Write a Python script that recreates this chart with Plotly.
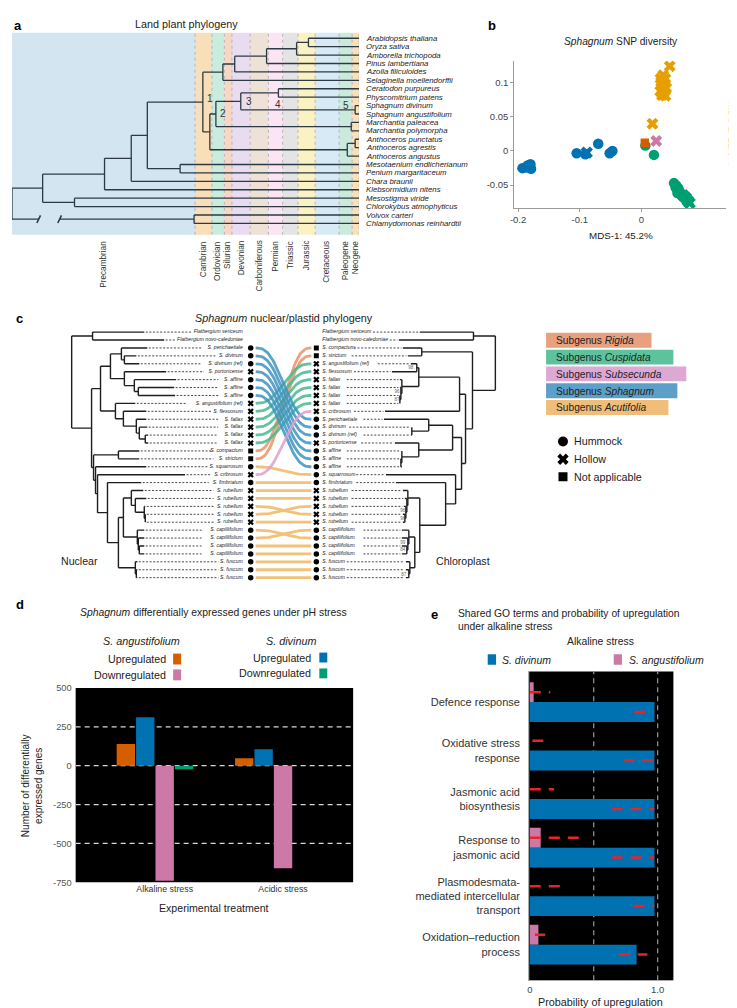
import numpy as np
import plotly.graph_objects as go

W, H = 737, 1008
FONT = "Liberation Sans, Arial, sans-serif"
INK = "#222222"

# ======================= DATA =======================
# ---- Panel a: land plant phylogeny ----
A_LEAVES = ["Arabidopsis thaliana", "Oryza sativa", "Amborella trichopoda", "Pinus lambertiana",
            "Azolla filiculoides", "Selaginella moellendorffii", "Ceratodon purpureus",
            "Physcomitrium patens", "Sphagnum divinum", "Sphagnum angustifolium",
            "Marchantia paleacea", "Marchantia polymorpha", "Anthoceros punctatus",
            "Anthoceros agrestis", "Anthoceros angustus", "Mesotaenium endlicherianum",
            "Penium margaritaceum", "Chara braunii", "Klebsormidium nitens", "Mesostigma viride",
            "Chlorokybus atmophyticus", "Volvox carteri", "Chlamydomonas reinhardtii"]
PERIODS = ["Precambrian", "Cambrian", "Ordovician", "Silurian", "Devonian", "Carboniferous",
           "Permian", "Triassic", "Jurassic", "Cretaceous", "Paleogene", "Neogene"]
PERIOD_START = [1144, 541, 485, 444, 419, 359, 299, 252, 201, 145, 66, 23]   # Ma
PERIOD_END = [541, 485, 444, 419, 359, 299, 252, 201, 145, 66, 23, 0]
PERIOD_COLORS = ["#d4e5f2", "#f8dfb9", "#c9ecdf", "#f8d6c4", "#eadcf0", "#eee1d5",
                 "#fbe4f3", "#e4e4e4", "#fbf2c4", "#d9eaf7", "#cbeadc", "#f8e0b9"]
A_BREAK_AGES = (1056, 987)


def N(x, ch, lab=None, brk=False):
    return ("N", x, ch, lab, brk)


def L(r, x=0):
    return ("L", r, x)


# node ages (Ma)
A_TREE = N(1144, [
    N(1043, [
        N(839, [
            N(751, [
                N(698, [
                    N(515, [
                        N(449, [N(410, [N(305, [N(206, [N(167, [L(0), L(1)]), L(2)]), L(3)]), L(4)]), L(5)]),
                        N(492, [
                            N(472, [N(390, [N(266, [L(6), L(7)], "4"), N(13, [L(8), L(9)], "5")], "3"),
                                    N(26, [L(10), L(11)])], "2"),
                            N(39, [N(13, [L(12), L(13)]), L(14)]),
                        ]),
                    ], "1"),
                    N(590, [L(15), L(16)]),
                ]),
                L(17),
            ]),
            L(18),
        ]),
        N(938, [L(19), L(20)]),
    ]),
    N(544, [L(21), L(22)], None, True),
])
A_LABEL_STYLE = {"1": ("left", 2, 3.5), "2": ("left", 2, 1), "3": ("left", 3, 0),
                 "4": ("center", 0, -12), "5": ("right", -4, 4)}

# ---- Panel b: SNP diversity (MDS) ----
B_BLUE_CIRCLE_X = [-0.193, -0.1847, -0.180, -0.179, -0.1875, -0.105, -0.091, -0.070, -0.0515, -0.047]
B_BLUE_CIRCLE_Y = [-0.0252, -0.0214, -0.0194, -0.0262, -0.0243, -0.0034, -0.005, 0.0105, -0.0035, 0.0]
B_BLUE_CROSS_X = [-0.0886]
B_BLUE_CROSS_Y = [-0.0025]
B_ORANGE_CROSS_X = [0.046, 0.0353, 0.039, 0.032, 0.038, 0.0343, 0.0404, 0.0306, 0.0367, 0.0334,
                    0.039, 0.0311, 0.0371, 0.018]
B_ORANGE_CROSS_Y = [0.1238, 0.1107, 0.1058, 0.101, 0.0985, 0.0937, 0.0922, 0.0874, 0.0864, 0.0816,
                    0.0806, 0.1058, 0.0903, 0.0398]
B_GREEN_CIRCLE_X = [0.0065, 0.0204, 0.0529, 0.0566, 0.0599, 0.0622, 0.0585, 0.0645, 0.0557]
B_GREEN_CIRCLE_Y = [0.0078, -0.0058, -0.0471, -0.0505, -0.0544, -0.0592, -0.0617, -0.0631, -0.0534]
B_GREEN_CROSS_X = [0.0677, 0.0724, 0.0784, 0.0752]
B_GREEN_CROSS_Y = [-0.065, -0.0689, -0.0762, -0.0728]
B_PINK_CROSS_X = [0.0241]
B_PINK_CROSS_Y = [0.0146]
B_RED_SQUARE_X = [0.0056]
B_RED_SQUARE_Y = [0.0121]
B_XTICKS = [-0.2, -0.1, 0]
B_XTICKTEXT = ["-0.2", "-0.1", "0"]
B_YTICKS = [-0.05, 0, 0.05, 0.1]
B_YTICKTEXT = ["-0.05", "0", "0.05", "0.1"]

# ---- Panel c: nuclear / plastid tanglegram ----
C_LEFT_NAMES = ["Flatbergium sericeum", "Flatbergium novo-caledoniae", "S. perichaetiale", "S. divinum",
                "S. divinum (ref)", "S. portoricense", "S. affine", "S. affine", "S. affine",
                "S. angustifolium (ref)", "S. flexuosum", "S. fallax", "S. fallax", "S. fallax", "S. fallax",
                "S. compactum", "S. strictum", "S. squarrosum", "S. cribrosum", "S. fimbriatum",
                "S. rubellum", "S. rubellum", "S. rubellum", "S. rubellum", "S. rubellum",
                "S. capillifolium", "S. capillifolium", "S. capillifolium", "S. capillifolium",
                "S. fuscum", "S. fuscum", "S. fuscum"]
C_LEFT_HABITAT = ["", "", "H", "H", "H", "W", "H", "H", "H", "W", "W", "W", "W", "W", "W",
                  "N", "N", "H", "W", "H", "W", "W", "W", "W", "W", "H", "H", "H", "H", "H", "H", "H"]
C_RIGHT_NAMES = ["Flatbergium sericeum", "Flatbergium novo-caledoniae", "S. compactum", "S. strictum",
                 "S. angustifolium (ref)", "S. flexuosum", "S. fallax", "S. fallax", "S. fallax", "S. fallax",
                 "S. cribrosum", "S. perichaetiale", "S. divinum", "S. divinum (ref)", "S. portoricense",
                 "S. affine", "S. affine", "S. affine", "S. squarrosum", "S. fimbriatum",
                 "S. rubellum", "S. rubellum", "S. rubellum", "S. rubellum", "S. rubellum",
                 "S. capillifolium", "S. capillifolium", "S. capillifolium", "S. capillifolium",
                 "S. fuscum", "S. fuscum", "S. fuscum"]
C_RIGHT_HABITAT = ["", "", "N", "N", "W", "W", "W", "W", "W", "W", "W", "H", "H", "H", "W",
                   "H", "H", "H", "H", "H", "W", "W", "W", "W", "W", "H", "H", "H", "H", "H", "H", "H"]
C_LINK_LEFT = list(range(2, 32))
C_LINK_RIGHT = [11, 12, 13, 14, 15, 16, 17, 4, 5, 6, 7, 8, 9, 2, 3, 18, 10, 19,
                20, 21, 23, 22, 24, 26, 25, 27, 28, 29, 30, 31]
C_LINK_GROUP = ["Sphagnum"] * 7 + ["Cuspidata"] * 6 + ["Rigida"] * 2 + ["Acutifolia", "Subsecunda"] + \
               ["Acutifolia"] * 13
C_SUBGENERA = ["Rigida", "Cuspidata", "Subsecunda", "Sphagnum", "Acutifolia"]
C_SUB_FILL = ["#E9A07E", "#5EC39C", "#DDA8D4", "#5C9FC8", "#F0BE78"]
C_SUB_LINE = ["#E8946A", "#45BC8F", "#DCA0D2", "#3E93C3", "#F0B862"]
C_SUB_BOX_W = [106, 128, 141, 132, 123]
C_HABITAT_KEYS = ["H", "W", "N"]
C_HABITAT_LABELS = ["Hummock", "Hollow", "Not applicable"]
C_HABITAT_SYMBOL = {"H": "circle", "W": "x", "N": "square"}

# branch positions (left tree grows rightwards, right tree leftwards)
C_NUC_TREE = N(60, [
    N(81, [L(0, 133), L(1, 153)]),
    N(80, [
        N(89, [
            N(99, [
                N(110, [L(2, 136), N(113, [L(3, 125), L(4, 128)])]),
                N(113, [L(5, 155), N(123, [L(6, 165), N(127, [L(7, 163), L(8, 164)])])]),
            ]),
            N(104, [L(9, 124), N(112, [L(10, 135), N(125, [L(11, 135), N(128, [L(12, 136),
                                                                          N(134, [L(13, 137), L(14, 137)])])])])]),
        ]),
        N(82, [
            N(107, [L(15, 128), L(16, 128)]),
            N(84, [
                L(17, 135),
                N(86, [
                    L(18, 174),
                    N(96, [
                        L(19, 130),
                        N(107, [
                            N(112, [
                                N(120, [L(20, 132), N(124, [L(21, 135), N(133, [L(22, 134),
                                                                              N(134, [L(23, 134), L(24, 134)])])])]),
                                N(126, [L(25, 133), N(127, [L(26, 133), N(128, [L(27, 133), L(28, 133)])])]),
                            ]),
                            N(124, [L(29, 126), N(125, [L(30, 126), L(31, 126)])]),
                        ]),
                    ]),
                ]),
            ]),
        ]),
    ]),
])
C_CHL_TREE = N(486, [
    N(464, [L(0, 410), L(1, 389)]),
    N(463, [
        N(412, [L(2, 393), L(3, 398)]),
        N(456, [
            N(450, [
                N(409, [N(407, [L(4, 401), L(5, 382)]),
                        N(392, [L(6, 390), N(391, [L(7, 390), N(390, [L(8, 390), L(9, 390)])])])]),
                L(10, 375),
            ]),
            N(452, [
                N(443, [
                    N(419, [L(11, 374), N(402, [L(12, 402), L(13, 401)])]),
                    N(409, [L(14, 385), N(392, [L(15, 392), N(391, [L(16, 392), L(17, 392)])])]),
                ]),
                N(446, [
                    L(18, 376),
                    N(436, [
                        L(19, 386),
                        N(410, [
                            N(398, [L(20, 393), N(397, [L(21, 395), N(396, [L(22, 394),
                                                                          N(395, [L(23, 393), L(24, 393)])])])]),
                            N(405, [N(399, [L(25, 392), N(398, [L(26, 392), N(397, [L(27, 392), L(28, 392)])])]),
                                    N(400, [L(29, 396), N(399, [L(30, 396), L(31, 396)])])]),
                        ]),
                    ]),
                ]),
            ]),
        ]),
    ]),
])
C_BOOT_TEXT = ["98", "96", "87", "96", "96", "99", "84", "87"]
C_BOOT_ROW = [4.55, 7.55, 8.55, 22.55, 23.55, 26.55, 27.55, 30.65]
C_BOOT_X = [401, 387, 387, 393, 393, 393, 393, 394]

# ---- Panel d: differentially expressed genes ----
D_CATEGORIES = ["Alkaline stress", "Acidic stress"]
D_ANG_UP = [140, 48]
D_DIV_UP = [312, 106]
D_ANG_DOWN = [-740, -660]
D_DIV_DOWN = [-23, 0]
D_YTICKS = [500, 250, 0, -250, -500, -750]
D_GRID = [250, 0, -250, -500]

# ---- Panel e: GO terms ----
E_TERMS = ["Defence response", "Oxidative stress<br>response", "Jasmonic acid<br>biosynthesis",
           "Response to<br>jasmonic acid", "Plasmodesmata-<br>mediated intercellular<br>transport",
           "Oxidation\u2013reduction<br>process"]
E_DIV = [0.975, 0.975, 0.975, 0.975, 0.975, 0.835]
E_ANG = [0.03, 0.0, 0.0, 0.085, 0.0, 0.067]
E_DIV_LO = [0.816, 0.733, 0.64, 0.64, 0.81, 0.695]
E_DIV_HI = [0.974, 0.974, 0.974, 0.974, 0.974, 0.92]
E_ANG_LO = [0.0, 0.02, 0.0, 0.0, 0.0, 0.04]
E_ANG_HI = [0.16, 0.11, 0.19, 0.40, 0.25, 0.12]
E_VLINES = [0.5, 1.0]

# colours (Okabe-Ito)
BLUE, ORANGE, GREEN, PINK, VERM = "#0072B2", "#E69F00", "#009E73", "#CC79A7", "#D55E00"


# ======================= HELPERS =======================
def PX(x):
    return x / W


def PY(y):
    return 1 - y / H


def ann(text, x, y, size=10.5, xa="center", ya="middle", angle=0, color=INK, bold=False, align="center"):
    if bold:
        text = "<b>" + text + "</b>"
    return dict(text=text, x=PX(x), y=PY(y), xref="paper", yref="paper", xanchor=xa, yanchor=ya,
                textangle=angle, showarrow=False, align=align,
                font=dict(size=size, color=color, family=FONT))


def box(x0, x1, y0, y1, color):
    return dict(type="rect", xref="paper", yref="paper", x0=PX(x0), x1=PX(x1), y0=PY(y1), y1=PY(y0),
                fillcolor=color, line=dict(width=0), layer="above")


def build(node, segx, segy, marks, parent=None, gap=None, tips=None):
    if node[0] == "L":
        y, x = node[1], node[2]
        brk = False
        if tips is not None:
            tips[y] = x
    else:
        _, x, ch, lab, brk = node
        ys = [build(c, segx, segy, marks, x, gap, tips) for c in ch]
        y = (ys[0] + ys[-1]) / 2
        segx += [x, x, None]
        segy += [ys[0], ys[-1], None]
        if lab:
            marks[lab] = (x, y)
        if brk:
            marks["_break"] = (x, y)
    if parent is not None:
        if brk and gap:
            segx += [parent, gap[0], None, gap[1], x, None]
            segy += [y, y, None, y, y, None]
        else:
            segx += [parent, x, None]
            segy += [y, y, None]
    return y


fig = go.Figure()
shapes, anns = [], []

# ======================= PANEL a =======================
for s, e, col in zip(PERIOD_START, PERIOD_END, PERIOD_COLORS):
    shapes.append(dict(type="rect", xref="x", yref="y domain", x0=s, x1=e, y0=0, y1=1,
                       fillcolor=col, line=dict(width=0), layer="below"))
for b in PERIOD_END:
    shapes.append(dict(type="line", xref="x", yref="y domain", x0=b, x1=b, y0=0, y1=1,
                       line=dict(color="#a8a8a8", width=0.8, dash="dot"), layer="below"))
for name, s, e in zip(PERIODS, PERIOD_START, PERIOD_END):
    anns.append(dict(text=name, x=(s + e) / 2, y=PY(228), xref="x", yref="paper", xanchor="center",
                     yanchor="top", textangle=-90, showarrow=False,
                     font=dict(size=8.2, color="#333", family=FONT)))
ax, ay, amarks = [], [], {}
build(A_TREE, ax, ay, amarks, gap=A_BREAK_AGES)
fig.add_trace(go.Scatter(x=ax, y=ay, mode="lines", line=dict(color="#2d3a44", width=1.3),
                         xaxis="x", yaxis="y", hoverinfo="skip"))
for i, name in enumerate(A_LEAVES):
    anns.append(dict(text="<i>" + name + "</i>", x=0, y=i, xref="x", yref="y", xanchor="left",
                     xshift=5, showarrow=False, font=dict(size=7.8, color=INK, family=FONT)))
for lab, (xa_, xs, ys) in A_LABEL_STYLE.items():
    nx, ny = amarks[lab]
    anns.append(dict(text=lab, x=nx, y=ny, xref="x", yref="y", xanchor=xa_, xshift=xs, yshift=ys,
                     showarrow=False, font=dict(size=10, color="#333", family=FONT)))
bx, by = amarks["_break"]
for age in A_BREAK_AGES:
    shapes.append(dict(type="line", xref="x", yref="y", x0=age + 6, x1=age - 6, y0=by + 0.45, y1=by - 0.45,
                       line=dict(color="#2d3a44", width=1.6), layer="above"))
anns.append(ann("Land plant phylogeny", 175, 11.5, size=10.8))
anns.append(ann("a", 0, 3, size=13, xa="left", ya="top", bold=True, color="black"))

# ======================= PANEL b =======================
b_series = [
    (B_BLUE_CIRCLE_X, B_BLUE_CIRCLE_Y, BLUE, "circle", 10.5),
    (B_BLUE_CROSS_X, B_BLUE_CROSS_Y, BLUE, "x", 11),
    (B_ORANGE_CROSS_X, B_ORANGE_CROSS_Y, ORANGE, "x", 10.5),
    (B_GREEN_CIRCLE_X, B_GREEN_CIRCLE_Y, GREEN, "circle", 10.5),
    (B_GREEN_CROSS_X, B_GREEN_CROSS_Y, GREEN, "x", 11),
    (B_PINK_CROSS_X, B_PINK_CROSS_Y, PINK, "x", 10.5),
    (B_RED_SQUARE_X, B_RED_SQUARE_Y, VERM, "square", 8.5),
]
for xs, ys, col, sym, sz in b_series:
    fig.add_trace(go.Scatter(x=xs, y=ys, mode="markers", xaxis="x2", yaxis="y2", hoverinfo="skip",
                             marker=dict(color=col, symbol=sym, size=sz, line=dict(width=0))))
anns.append(ann("<i>Sphagnum</i> SNP diversity", 612, 29, size=10.2))
anns.append(ann("MDS-1: 45.2%", 612, 225, size=9.8))
anns.append(ann("MDS-2: 21.6%", 724, 122, size=9.8, angle=90))
anns.append(ann("b", 477, 3, size=13, xa="left", ya="top", bold=True, color="black"))

# ======================= PANEL c =======================
CHW = 2.4
LEFT_TXT, LEFT_SYM, RIGHT_SYM, RIGHT_TXT = 231, 240, 306, 313
LINK_X0, LINK_X1 = 245, 301

nx_, ny_, ntips = [], [], {}
build(C_NUC_TREE, nx_, ny_, {}, tips=ntips)
cx_, cy_, ctips = [], [], {}
build(C_CHL_TREE, cx_, cy_, {}, tips=ctips)
for sx, sy in ((nx_, ny_), (cx_, cy_)):
    fig.add_trace(go.Scatter(x=sx, y=sy, mode="lines", line=dict(color="#1e1e1e", width=1.4),
                             xaxis="x3", yaxis="y3", hoverinfo="skip"))
# leaders
lx, ly = [], []
for r, name in enumerate(C_LEFT_NAMES):
    a0, a1 = ntips[r] + 1.5, LEFT_TXT - len(name) * CHW - 2
    if a1 > a0:
        lx += [a0, a1, None]
        ly += [r, r, None]
for r, name in enumerate(C_RIGHT_NAMES):
    a0, a1 = RIGHT_TXT + len(name) * CHW + 2, ctips[r] - 1.5
    if a1 > a0:
        lx += [a0, a1, None]
        ly += [r, r, None]
fig.add_trace(go.Scatter(x=lx, y=ly, mode="lines", line=dict(color="#333", width=0.9, dash="2px,1.6px"),
                         xaxis="x3", yaxis="y3", hoverinfo="skip"))
# tangle links
t = np.linspace(0, 1, 40)
sstep = t * t * t * (t * (6 * t - 15) + 10)
grp_order = ["Acutifolia", "Rigida", "Cuspidata", "Sphagnum", "Subsecunda"]
for g in grp_order:
    col = C_SUB_LINE[C_SUBGENERA.index(g)]
    gx, gy = [], []
    for l_, r_, gg in zip(C_LINK_LEFT, C_LINK_RIGHT, C_LINK_GROUP):
        if gg != g:
            continue
        gx += list(LINK_X0 + (LINK_X1 - LINK_X0) * t) + [None]
        gy += list(l_ + (r_ - l_) * sstep) + [None]
    fig.add_trace(go.Scatter(x=gx, y=gy, mode="lines", line=dict(color=col, width=2.8), opacity=0.85,
                             xaxis="x3", yaxis="y3", hoverinfo="skip"))
# leaf labels
rows = list(range(len(C_LEFT_NAMES)))
fig.add_trace(go.Scatter(x=[LEFT_TXT + 1] * len(rows), y=rows, mode="text",
                         text=["<i>" + n + "</i>" for n in C_LEFT_NAMES], textposition="middle left",
                         textfont=dict(size=5.1, color=INK, family=FONT), xaxis="x3", yaxis="y3",
                         hoverinfo="skip", cliponaxis=False))
fig.add_trace(go.Scatter(x=[RIGHT_TXT - 1] * len(rows), y=rows, mode="text",
                         text=["<i>" + n + "</i>" for n in C_RIGHT_NAMES], textposition="middle right",
                         textfont=dict(size=5.1, color=INK, family=FONT), xaxis="x3", yaxis="y3",
                         hoverinfo="skip", cliponaxis=False))
# habitat symbols
for side_x, hab in ((LEFT_SYM, C_LEFT_HABITAT), (RIGHT_SYM, C_RIGHT_HABITAT)):
    for key in C_HABITAT_KEYS:
        rr = [i for i, h in enumerate(hab) if h == key]
        fig.add_trace(go.Scatter(x=[side_x] * len(rr), y=rr, mode="markers", xaxis="x3", yaxis="y3",
                                 hoverinfo="skip",
                                 marker=dict(symbol=C_HABITAT_SYMBOL[key], color="black",
                                             size=5.5 if key != "N" else 5, line=dict(width=0))))
# bootstrap values
fig.add_trace(go.Scatter(x=C_BOOT_X, y=C_BOOT_ROW, mode="text", text=C_BOOT_TEXT,
                         textfont=dict(size=4.5, color="#666", family=FONT), xaxis="x3", yaxis="y3",
                         hoverinfo="skip", cliponaxis=False))
# habitat legend (keys)
HAB_LEG_Y = [432.7, 450.7, 468.3]
for key, lab, yy in zip(C_HABITAT_KEYS, C_HABITAT_LABELS, HAB_LEG_Y):
    fig.add_trace(go.Scatter(x=[554], y=[(yy - 322.3) / 8], mode="markers", xaxis="x3", yaxis="y3",
                             hoverinfo="skip",
                             marker=dict(symbol=C_HABITAT_SYMBOL[key], color="black",
                                         size=10 if key != "N" else 9, line=dict(width=0))))
    anns.append(ann(lab, 563, yy, size=10.7, xa="left"))
# subgenus legend boxes
for i, (g, fill, bw) in enumerate(zip(C_SUBGENERA, C_SUB_FILL, C_SUB_BOX_W)):
    y0 = 323 + 17 * i
    shapes.append(box(537, 537 + bw, y0, y0 + 15, fill))
    anns.append(ann("Subgenus <i>" + g + "</i>", 545, y0 + 7.8, size=10.2, xa="left"))
anns.append(ann("<i>Sphagnum</i> nuclear/plastid phylogeny", 273, 308, size=10.8))
anns.append(ann("Nuclear", 68, 553, size=10.6))
anns.append(ann("Chloroplast", 453, 553, size=10.6))
anns.append(ann("c", 2, 299, size=13, xa="left", ya="top", bold=True, color="black"))

# ======================= PANEL d =======================
D_POS = [1, 2]
d_series = [(D_ANG_UP, VERM, -0.328), (D_DIV_UP, BLUE, -0.164), (D_ANG_DOWN, PINK, 0.0), (D_DIV_DOWN, GREEN, 0.164)]
shapes.append(dict(type="rect", xref="x4 domain", yref="y4 domain", x0=0, x1=1, y0=0, y1=1,
                   fillcolor="black", line=dict(width=0), layer="below"))
for gv in D_GRID:
    shapes.append(dict(type="line", xref="x4 domain", yref="y4", x0=0, x1=1, y0=gv, y1=gv,
                       line=dict(color="#d8d8d8", width=1.2, dash="5px,4px"), layer="below"))
for vals, col, off in d_series:
    fig.add_trace(go.Bar(x=[p + off for p in D_POS], y=vals, width=0.155, marker=dict(color=col, line=dict(width=0)),
                         xaxis="x4", yaxis="y4", hoverinfo="skip"))
anns.append(ann("<i>Sphagnum</i> differentially expressed genes under pH stress", 203, 606, size=10.4))
anns.append(ann("<i>S. angustifolium</i>", 130, 634, size=10.8))
anns.append(ann("Upregulated", 157, 652.5, size=10.7, xa="right"))
anns.append(ann("Downregulated", 157, 668.5, size=10.7, xa="right"))
shapes.append(box(162, 170, 647, 658, VERM))
shapes.append(box(162, 170, 663, 674, PINK))
anns.append(ann("<i>S. divinum</i>", 281, 634, size=10.8))
anns.append(ann("Upregulated", 302.5, 651, size=10.7, xa="right"))
anns.append(ann("Downregulated", 302.5, 667, size=10.7, xa="right"))
shapes.append(box(309, 317, 646, 656, BLUE))
shapes.append(box(309, 317, 662, 672, GREEN))
anns.append(ann("Number of differentially<br>expressed genes", 20, 780, size=10, angle=-90))
anns.append(ann("Experimental treatment", 203, 904, size=10.6))
anns.append(ann("d", 2, 588, size=13, xa="left", ya="top", bold=True, color="black"))

# ======================= PANEL e =======================
E_OFF, E_W = 0.204, 0.408
ek = list(range(len(E_TERMS)))
shapes.append(dict(type="rect", xref="x5 domain", yref="y5 domain", x0=0, x1=1, y0=0, y1=1,
                   fillcolor="black", line=dict(width=0), layer="below"))
for v in E_VLINES:
    shapes.append(dict(type="line", xref="x5", yref="y5 domain", x0=v, x1=v, y0=0, y1=1,
                       line=dict(color="#9a9a9a", width=1.2, dash="5px,4px"), layer="below"))
fig.add_trace(go.Bar(x=E_ANG, y=[k - E_OFF for k in ek], orientation="h", width=E_W,
                     marker=dict(color=PINK, line=dict(width=0)), xaxis="x5", yaxis="y5", hoverinfo="skip"))
fig.add_trace(go.Bar(x=E_DIV, y=[k + E_OFF for k in ek], orientation="h", width=E_W,
                     marker=dict(color=BLUE, line=dict(width=0)), xaxis="x5", yaxis="y5", hoverinfo="skip"))
rx, ry = [], []
for k in ek:
    rx += [E_ANG_LO[k], E_ANG_HI[k], None, E_DIV_LO[k], E_DIV_HI[k], None]
    ry += [k - E_OFF, k - E_OFF, None, k + E_OFF, k + E_OFF, None]
fig.add_trace(go.Scatter(x=rx, y=ry, mode="lines", line=dict(color="#e8242b", width=2.6, dash="11px,8px"),
                         xaxis="x5", yaxis="y5", hoverinfo="skip", cliponaxis=False))
anns.append(ann("Shared GO terms and probability of upregulation<br>under alkaline stress", 446.5, 613,
                size=10.3, xa="left", align="left"))
anns.append(ann("Alkaline stress", 592, 635, size=10.4))
shapes.append(box(478.3, 486.7, 647.7, 658.3, BLUE))
anns.append(ann("<i>S. divinum</i>", 490.7, 653, size=10.5, xa="left"))
shapes.append(box(605, 613.3, 647.7, 658.3, PINK))
anns.append(ann("<i>S. angustifolium</i>", 618.3, 653, size=10.5, xa="left"))
anns.append(ann("Probability of upregulation", 592, 999, size=10.8))
anns.append(ann("e", 419, 598, size=13, xa="left", ya="top", bold=True, color="black"))

# ======================= LAYOUT =======================
hidden = dict(visible=False, showgrid=False, zeroline=False, fixedrange=True)
tickf = dict(size=9.5, color="#444", family=FONT)
fig.update_layout(
    width=W, height=H, autosize=False, margin=dict(l=0, r=0, t=0, b=0),
    paper_bgcolor="white", plot_bgcolor="rgba(0,0,0,0)", showlegend=False, barmode="overlay",
    font=dict(family=FONT, color=INK),
    shapes=shapes, annotations=anns,
    xaxis=dict(domain=[0, PX(349)], range=[1144, 0], anchor="y", **hidden),
    yaxis=dict(domain=[PY(224), PY(20)], range=[23.35, -0.647], anchor="x", **hidden),
    xaxis2=dict(domain=[PX(505), PX(718)], range=[-0.20625, 0.1375], anchor="y2", showline=True,
                linecolor="#9a9a9a", ticks="outside", ticklen=3, tickcolor="#9a9a9a",
                tickvals=B_XTICKS, ticktext=B_XTICKTEXT, tickfont=tickf, showgrid=False, zeroline=False),
    yaxis2=dict(domain=[PY(197), PY(48)], range=[-0.0836, 0.1323], anchor="x2", showline=True,
                linecolor="#9a9a9a", ticks="outside", ticklen=3, tickcolor="#9a9a9a",
                tickvals=B_YTICKS, ticktext=B_YTICKTEXT, tickfont=tickf, showgrid=False, zeroline=False),
    xaxis3=dict(domain=[0, 1], range=[0, W], anchor="y3", **hidden),
    yaxis3=dict(domain=[PY(578), PY(315)], range=[31.96, -0.9125], anchor="x3", **hidden),
    xaxis4=dict(domain=[PX(64), PX(343)], range=[0.248, 2.592], anchor="y4", tickvals=D_POS,
                ticktext=D_CATEGORIES, ticks="", showline=False, showgrid=False, zeroline=False,
                tickfont=dict(size=8.8, color="#333", family=FONT)),
    yaxis4=dict(domain=[PY(878), PY(681.7)], range=[-750, 500], anchor="x4", tickvals=D_YTICKS,
                ticktext=[str(v) for v in D_YTICKS], ticks="", showline=False, showgrid=False,
                zeroline=False, tickfont=dict(size=9.3, color="#555", family=FONT), ticklabelstandoff=3),
    xaxis5=dict(domain=[PX(520), PX(665)], range=[-0.005, 1.123], anchor="y5", tickvals=[0, 1],
                ticktext=["0", "1.0"], ticks="", showline=True, linecolor="#aaaaaa", showgrid=False,
                zeroline=False, tickfont=tickf),
    yaxis5=dict(domain=[PY(977), PY(665)], range=[5.735, -0.633], anchor="x5", tickvals=ek,
                ticktext=E_TERMS, ticks="", showline=True, linecolor="#aaaaaa", showgrid=False,
                zeroline=False, tickfont=dict(size=11, color="#333", family=FONT), ticklabelstandoff=6),
)

fig.write_html("out.html")
